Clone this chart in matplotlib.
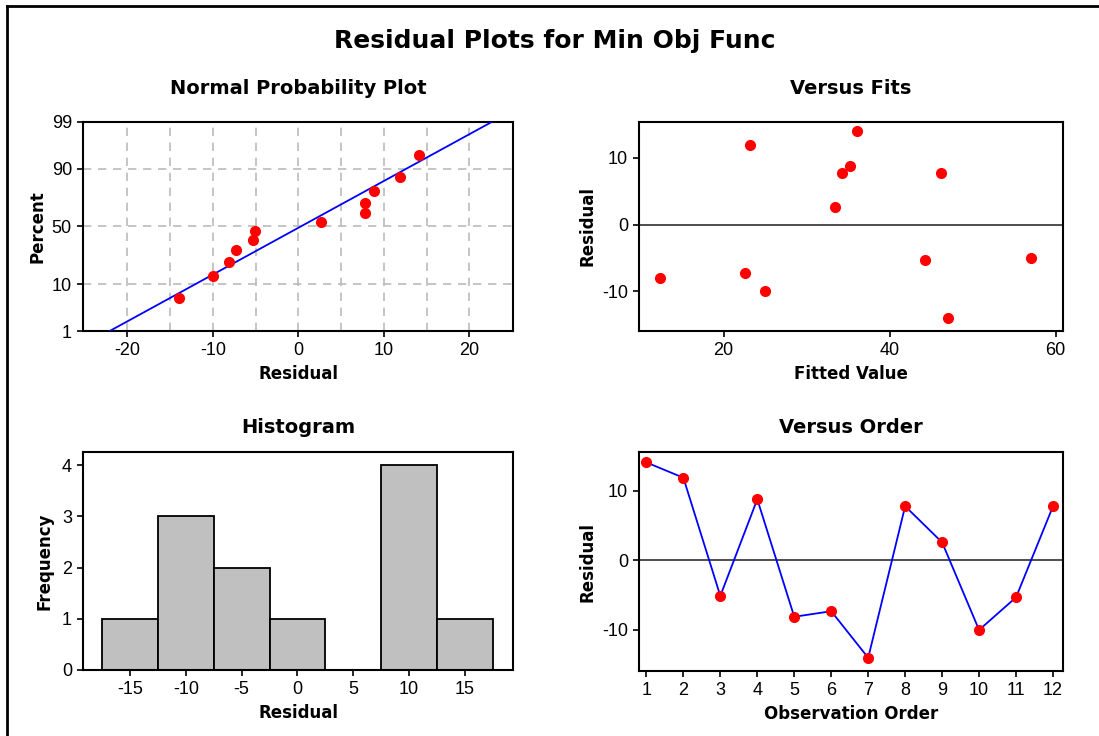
from statistics import NormalDist

import matplotlib
matplotlib.use('Agg')
import matplotlib.pyplot as plt
import numpy as np

# data
order = list(range(1, 13))
residuals = [14.1, 11.9, -5.1, 8.8, -8.1, -7.3, -14.0, 7.8, 2.6, -10.0, -5.3, 7.8]
fitted = [36.1, 23.2, 57.0, 35.2, 12.3, 22.6, 47.0, 34.3, 33.4, 25.0, 44.3, 46.2]

hist_centers = [-15, -10, -5, 0, 5, 10, 15]
hist_counts = [1, 3, 2, 1, 0, 4, 1]

pct_ticks = [1, 10, 50, 90, 99]

W, H = 1099, 736
RED = '#FF0000'
BLUE = '#0000FF'
BOLD = ['DejaVu Sans']
nd = NormalDist()

plt.rcParams['font.family'] = ['Liberation Sans', 'DejaVu Sans']
plt.rcParams['axes.unicode_minus'] = False


def px_axes(fig, left, top, right, bottom):
    """Add axes from pixel box (top-left origin)"""
    return fig.add_axes([left / W, 1 - bottom / H, (right - left) / W, (bottom - top) / H])


def style(ax):
    for s in ax.spines.values():
        s.set_linewidth(1.5)
        s.set_color('black')
    ax.tick_params(direction='out', length=4, width=1.2, labelsize=13, pad=4)


def labels(ax, title, xlabel, ylabel, tpad, ylpad=4):
    ax.set_title(title, fontsize=14, fontweight='bold', family=BOLD, pad=tpad)
    ax.set_xlabel(xlabel, fontsize=12, fontweight='bold', family=BOLD, labelpad=4)
    ax.set_ylabel(ylabel, fontsize=12, fontweight='bold', family=BOLD, labelpad=ylpad)


fig = plt.figure(figsize=(W / 100, H / 100), dpi=100)

# outer frame (left and top edges of the screenshot window)
fig.add_artist(plt.Line2D([7 / W, 7 / W], [0, 1 - 6 / H], transform=fig.transFigure,
                          color='black', lw=2))
fig.add_artist(plt.Line2D([7 / W, 1], [1 - 6 / H, 1 - 6 / H], transform=fig.transFigure,
                          color='black', lw=2))

fig.text(555 / W, 1 - 41 / H, 'Residual Plots for Min Obj Func', ha='center', va='center',
         fontsize=18, fontweight='bold', family=BOLD)

# Normal probability plot
ax1 = px_axes(fig, 83, 122, 513, 331)
res_sorted = np.sort(residuals)
n = len(res_sorted)
pos = [(i - 0.3) / (n + 0.4) for i in range(1, n + 1)]  # Benard positions
z_pts = [nd.inv_cdf(p) for p in pos]
mu, sd = np.mean(residuals), np.std(residuals, ddof=1)
z_lim = nd.inv_cdf(0.99)
ax1.plot([mu - sd * z_lim, mu + sd * z_lim], [-z_lim, z_lim], color=BLUE, lw=1.3, zorder=3)
ax1.plot(res_sorted, z_pts, 'o', color=RED, ms=7, zorder=4)
ax1.set_ylim(-z_lim, z_lim)
ax1.set_xlim(-25.2, 25.1)
ax1.set_yticks([nd.inv_cdf(p / 100) for p in pct_ticks])
ax1.set_yticklabels([str(p) for p in pct_ticks])
ax1.set_xticks([-20, -10, 0, 10, 20])
for gx in range(-20, 21, 5):
    ax1.axvline(gx, color='#BBBBBB', lw=1.2, ls=(0, (5, 4)), zorder=1)
for gp in [10, 50, 90]:
    ax1.axhline(nd.inv_cdf(gp / 100), color='#BBBBBB', lw=1.2, ls=(0, (5, 4)), zorder=1)
labels(ax1, 'Normal Probability Plot', 'Residual', 'Percent', 20)
style(ax1)

# Versus fits
ax2 = px_axes(fig, 639, 122, 1063, 331)
ax2.axhline(0, color='#404040', lw=1.3, zorder=1)
ax2.plot(fitted, residuals, 'o', color=RED, ms=7, zorder=3)
ax2.set_xlim(9.8, 60.9)
ax2.set_ylim(-16, 15.4)
ax2.set_xticks([20, 40, 60])
ax2.set_yticks([-10, 0, 10])
labels(ax2, 'Versus Fits', 'Fitted Value', 'Residual', 20)
style(ax2)

# Histogram
ax3 = px_axes(fig, 83, 452, 513, 670)
ax3.bar(hist_centers, hist_counts, width=5, color='#C0C0C0', edgecolor='black', lw=1.3)
ax3.set_xlim(-19.2, 19.3)
ax3.set_ylim(0, 4.26)
ax3.set_xticks(hist_centers)
ax3.set_yticks([0, 1, 2, 3, 4])
labels(ax3, 'Histogram', 'Residual', 'Frequency', 14, ylpad=6)
style(ax3)

# Versus order
ax4 = px_axes(fig, 639, 452, 1063, 671)
ax4.axhline(0, color='#404040', lw=1.3, zorder=1)
ax4.plot(order, residuals, '-', color=BLUE, lw=1.3, zorder=2)
ax4.plot(order, residuals, 'o', color=RED, ms=7, zorder=3)
ax4.set_xlim(0.8, 12.27)
ax4.set_ylim(-15.9, 15.6)
ax4.set_xticks(order)
ax4.set_yticks([-10, 0, 10])
labels(ax4, 'Versus Order', 'Observation Order', 'Residual', 14)
style(ax4)

plt.savefig('out.png', dpi=100)
